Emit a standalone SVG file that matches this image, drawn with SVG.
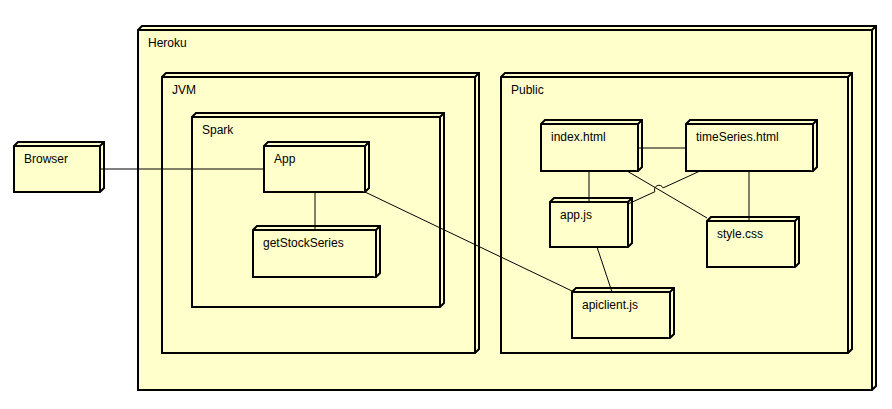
<svg xmlns="http://www.w3.org/2000/svg" width="892" height="409" viewBox="0 0 892 409">
<style>
.n{fill:#FFFFCC;stroke:#000;stroke-width:2;stroke-linejoin:miter}
.t{font-family:"Liberation Sans",Arial,sans-serif;font-size:12px;fill:#000}
.c{fill:none;stroke:#000;stroke-width:1}
</style>
<rect width="892" height="409" fill="#fff"/>
<g id="heroku">
<path class="n" d="M138,30 L142,26 L876,26 L876,386 L872,390 L138,390 Z"/>
<path class="n" d="M138,30 L872,30 L872,390 M872,30 L876,26"/>
<text class="t" x="148" y="47">Heroku</text>
</g>
<g id="jvm">
<path class="n" d="M162,77 L166,73 L479,73 L479,349 L475,353 L162,353 Z"/>
<path class="n" d="M162,77 L475,77 L475,353 M475,77 L479,73"/>
<text class="t" x="172" y="94">JVM</text>
</g>
<g id="spark">
<path class="n" d="M192,117 L196,113 L444,113 L444,303 L440,307 L192,307 Z"/>
<path class="n" d="M192,117 L440,117 L440,307 M440,117 L444,113"/>
<text class="t" x="202" y="134">Spark</text>
</g>
<g id="public">
<path class="n" d="M501,77 L505,73 L852,73 L852,349 L848,353 L501,353 Z"/>
<path class="n" d="M501,77 L848,77 L848,353 M848,77 L852,73"/>
<text class="t" x="511" y="94">Public</text>
</g>
<g id="browser">
<path class="n" d="M14,146 L18,142 L104,142 L104,188 L100,192 L14,192 Z"/>
<path class="n" d="M14,146 L100,146 L100,192 M100,146 L104,142"/>
<text class="t" x="24" y="163">Browser</text>
</g>
<g id="app">
<path class="n" d="M264,146 L268,142 L369,142 L369,188 L365,192 L264,192 Z"/>
<path class="n" d="M264,146 L365,146 L365,192 M365,146 L369,142"/>
<text class="t" x="274" y="163">App</text>
</g>
<g id="getStockSeries">
<path class="n" d="M253,230 L257,226 L380,226 L380,273 L376,277 L253,277 Z"/>
<path class="n" d="M253,230 L376,230 L376,277 M376,230 L380,226"/>
<text class="t" x="263" y="247">getStockSeries</text>
</g>
<g id="index">
<path class="n" d="M541,124 L545,120 L642,120 L642,167 L638,171 L541,171 Z"/>
<path class="n" d="M541,124 L638,124 L638,171 M638,124 L642,120"/>
<text class="t" x="551" y="141">index.html</text>
</g>
<g id="timeSeries">
<path class="n" d="M686,124 L690,120 L817,120 L817,167 L813,171 L686,171 Z"/>
<path class="n" d="M686,124 L813,124 L813,171 M813,124 L817,120"/>
<text class="t" x="696" y="141">timeSeries.html</text>
</g>
<g id="appjs">
<path class="n" d="M550,202 L554,198 L632,198 L632,243 L628,247 L550,247 Z"/>
<path class="n" d="M550,202 L628,202 L628,247 M628,202 L632,198"/>
<text class="t" x="560" y="219">app.js</text>
</g>
<g id="stylecss">
<path class="n" d="M707,221 L711,217 L799,217 L799,263 L795,267 L707,267 Z"/>
<path class="n" d="M707,221 L795,221 L795,267 M795,221 L799,217"/>
<text class="t" x="717" y="238">style.css</text>
</g>
<g id="apiclient">
<path class="n" d="M572,292 L576,288 L674,288 L674,334 L670,338 L572,338 Z"/>
<path class="n" d="M572,292 L670,292 L670,338 M670,292 L674,288"/>
<text class="t" x="582" y="309">apiclient.js</text>
</g>
<g id="connectors">
<path class="c" d="M100,169 L264,169"/>
<path class="c" d="M315,192 L315,230"/>
<path class="c" d="M365,192 L572,291"/>
<path class="c" d="M638,148 L686,148"/>
<path class="c" d="M589,171 L589,202"/>
<path class="c" d="M627,171 L707,218"/>
<path class="c" d="M700,171 L663.1,187.9 A4.5,4.5 0 0 0 654.9,191.7 L628,204"/>
<path class="c" d="M749,171 L749,221"/>
<path class="c" d="M597,247 L612,292"/>
</g>
</svg>
